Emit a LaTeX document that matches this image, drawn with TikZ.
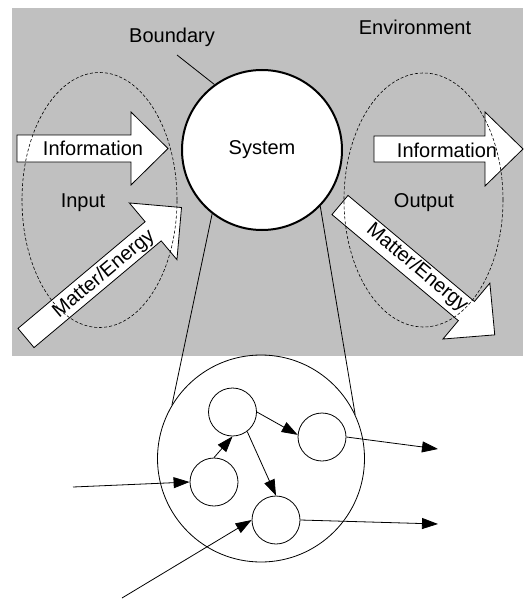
\documentclass[tikz,border=0pt]{standalone}
\usepackage{fontspec}
\setmainfont{Liberation Sans}
\usetikzlibrary{arrows.meta}
\definecolor{envgray}{RGB}{192,192,192}
\tikzset{
  pics/blockarrow/.style args={#1/#2/#3/#4}{code={
    \draw[fill=white, line width=0.8pt, line join=miter]
      (0,-#2) -- (#1-#4,-#2) -- (#1-#4,-#3) -- (#1,0) -- (#1-#4,#3) -- (#1-#4,#2) -- (0,#2) -- cycle;
  }},
  lbl/.style={inner sep=0pt},
  ioellipse/.style={draw, line width=0.6pt, dash pattern=on 3pt off 2pt},
  sub/.style={circle, draw, line width=0.8pt, minimum size=48pt, inner sep=0pt},
  flow/.style={line width=0.8pt, -{Triangle[length=16pt,width=11pt]}},
  thin line/.style={line width=0.8pt}
}
\begin{document}
\begin{tikzpicture}[x=1pt, y=-1pt, font=\fontsize{20}{23}\selectfont]
\useasboundingbox (0,0) rectangle (524,599);
\fill[envgray] (12,8) rectangle (523,356);

% block arrows
\pic at (17,148.5) {blockarrow=151/13.5/36.5/37};
\pic at (374,149) {blockarrow=149/13/37/38};
\pic[rotate=40] at (26,338) {blockarrow=203/12.5/37/37};
\pic[rotate=-40] at (340,205) {blockarrow=202/12.5/36.5/37};

% labels
\node[lbl] (infoin) at (93,148.5) {Information};
\node[lbl] (infoout) at (447,150) {Information};
\node[lbl, rotate=40] (mein) at (104,274) {Matter/Energy};
\node[lbl, rotate=-40] (meout) at (417,268) {Matter/Energy};
\node[lbl] (input) at (83,203) {Input};
\node[lbl] (output) at (424,203) {Output};
\node[lbl] (bnd) at (172,37) {Boundary};
\node[lbl] (env) at (415,27) {Environment};

% dashed ellipses
\draw[ioellipse] (99.5,200) ellipse [x radius=77.5pt, y radius=127.5pt];
\draw[ioellipse] (423.5,200) ellipse [x radius=79.5pt, y radius=127pt];

% system
\node[circle, draw, line width=2pt, fill=white, minimum size=160pt, inner sep=0pt] (sys) at (262,150) {System};
\coordinate (bl) at (177,55);
\draw[thin line] (bl) -- (sys.126);

% magnified view
\node[circle, draw, line width=0.8pt, minimum size=207pt, inner sep=0pt] (mag) at (261,458.5) {};
\draw[thin line] (sys.232) -- (mag.149);
\draw[thin line] (sys.316) -- (mag.25);

\node[sub] (A) at (232.5,412) {};
\node[sub] (B) at (322,437) {};
\node[sub] (C) at (214,482) {};
\node[sub] (D) at (276,520) {};

\draw[flow] (C.north) -- (A.south);
\draw[flow] (A.east) -- (B.175);
\draw[flow] (A.-53) -- (D.north);

\coordinate (inC) at (73,487);
\coordinate (inD) at (122,598);
\coordinate (outB) at (438,449);
\coordinate (outD) at (438,524);
\draw[flow] (inC) -- (C.west);
\draw[flow] (inD) -- (D.west);
\draw[flow] (B.east) -- (outB);
\draw[flow] (D.east) -- (outD);
\end{tikzpicture}
\end{document}
